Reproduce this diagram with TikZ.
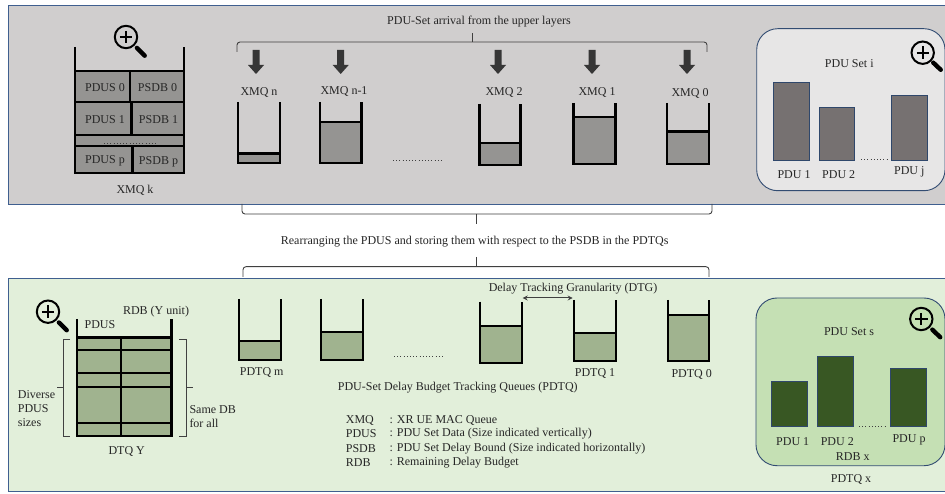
\documentclass[tikz,border=0pt]{standalone}
\usepackage{fontspec}
\setmainfont{Liberation Serif}
\usetikzlibrary{arrows.meta,calc}
\definecolor{panelgray}{HTML}{D0CECE}
\definecolor{panelgreen}{HTML}{E2EFDA}
\definecolor{edgeblue}{HTML}{3F5F8F}
\definecolor{qgray}{HTML}{959492}
\definecolor{qgreen}{HTML}{A0B38F}
\definecolor{setgray}{HTML}{E7E6E6}
\definecolor{setgreen}{HTML}{C5E0B4}
\definecolor{bargray}{HTML}{767171}
\definecolor{bargreen}{HTML}{385723}
\definecolor{txt}{HTML}{262626}
\definecolor{brace}{HTML}{404040}
\tikzset{
  x=1pt,y=-1pt,
  panel/.style={draw=edgeblue,line width=0.9pt},
  setbox/.style={draw=edgeblue!80!black,line width=0.9pt,rounded corners=21pt},
  bar/.style={draw=edgeblue!75!black,line width=0.8pt},
  wall/.style={draw=black,line width=2.2pt,line join=miter},
  lbl/.style={inner sep=0pt,text=txt,font=\fontsize{12pt}{14pt}\selectfont},
  lbll/.style={lbl,anchor=west},
  bracket/.style={draw=brace,line width=0.9pt,rounded corners=3pt},
  dotline/.style={draw=brace,line width=0.9pt,dash pattern=on 1pt off 2.2pt},
  down/.style={fill=brace!85!black,draw=none},
  dtg/.style={draw=brace,line width=1pt,{Stealth[length=5pt,width=5pt]}-{Stealth[length=5pt,width=5pt]}}
}
% queue: left x, right x, top y, bottom y, level y, fill
\newcommand{\myqueue}[6]{%
  \fill[#6] (#1,#5) rectangle (#2,#4);
  \draw[wall] (#1,#3) -- (#1,#4) -- (#2,#4) -- (#2,#3);
  \draw[wall] (#1,#5) -- (#2,#5);
}
% magnifier: cx, cy, hx, hy
\newcommand{\myglass}[4]{%
  \draw[black,line width=2pt] (#1,#2) circle (11.2pt);
  \draw[black,line width=2pt] (#1-6.2,#2) -- (#1+6.2,#2) (#1,#2-6.2) -- (#1,#2+6.2);
  \draw[black,line width=4.4pt,line cap=round] ($(#1,#2)!0.56!(#3,#4)$) -- ($(#1,#2)!0.96!(#3,#4)$);
}
\newcommand{\mydown}[1]{%
  \fill[down] (#1-3.5,50) -- (#1+3.5,50) -- (#1+3.5,65) -- (#1+8,65) -- (#1,74) -- (#1-8,65) -- (#1-3.5,65) -- cycle;
}
\begin{document}
\begin{tikzpicture}
\useasboundingbox (0,0) rectangle (945,494);
\fill[white] (0,0) rectangle (945,494);
% panels
\draw[panel,fill=panelgray] (8.5,5) rectangle (950,204);
\draw[panel,fill=panelgreen] (8.5,278.5) rectangle (950,491.5);

% --- top: XMQ k
\fill[qgray] (75,71) rectangle (184,173);
\draw[wall] (75,47) -- (75,173) -- (184,173) -- (184,47);
\draw[wall] (75,71) -- (184,71) (75,102) -- (184,102) (75,135) -- (184,135) (75,146) -- (184,146);
\draw[wall] (130,71) -- (130,102) (131.5,102) -- (131.5,135) (132.5,146) -- (132.5,173);
\node[lbl] (pdus0) at (105,88) {PDUS 0};
\node[lbl] (psdb0) at (157.5,88) {PSDB 0};
\node[lbl] (pdus1) at (105,120) {PDUS 1};
\node[lbl] (psdb1) at (158.5,120) {PSDB 1};
\node[lbl] (pdusp) at (105,161) {PDUS p};
\node[lbl] (psdbp) at (158.5,161.5) {PSDB p};
\draw[dotline] (104,143) -- (157,143);
\node[lbl] (xmqk) at (135,190.5) {XMQ k};
\myglass{126}{37}{145.5}{56.5}

% --- top: queues
\node[lbl] (arrival) at (479,22) {PDU-Set arrival from the upper layers};
\draw[bracket] (237,52) -- (237,42) -- (707,42) -- (707,52);
\draw[brace,line width=0.9pt] (472,42) -- (472,33);
\mydown{256}\mydown{340.7}\mydown{498}\mydown{592}\mydown{687}
\node[lbl] (xmqn) at (259,93) {XMQ n};
\node[lbl] (xmqn1) at (344,92) {XMQ n-1};
\node[lbl] (xmq2) at (504,93) {XMQ 2};
\node[lbl] (xmq1) at (597,93) {XMQ 1};
\node[lbl] (xmq0) at (690,93) {XMQ 0};
\myqueue{238}{280}{102}{163}{153.5}{qgray}
\myqueue{320}{361.5}{102}{163}{122}{qgray}
\myqueue{479.5}{520.5}{104}{165}{143}{qgray}
\myqueue{573.5}{615.5}{103}{164}{117}{qgray}
\myqueue{667}{709}{103}{164}{131.5}{qgray}
\draw[dotline] (393,160) -- (443,160);

% --- top: PDU set i
\draw[setbox,fill=setgray] (756.7,28.7) rectangle (945,190.7);
\draw[bar,fill=bargray] (773.3,82) rectangle (809,160);
\draw[bar,fill=bargray] (819,107) rectangle (854.7,160);
\draw[bar,fill=bargray] (891.7,95.7) rectangle (927.3,160);
\node[lbl] (seti) at (849.3,64) {PDU Set i};
\node[lbl] (ipdu1) at (794,174.7) {PDU 1};
\node[lbl] (ipdu2) at (838.7,174.7) {PDU 2};
\node[lbl] (ipduj) at (909.3,172.3) {PDU j};
\draw[dotline] (861,159) -- (887,159);
\myglass{922.7}{52.7}{941.5}{70.5}

% --- middle
\draw[bracket] (242,204) -- (242,214) -- (712,214) -- (712,204);
\draw[brace,line width=0.9pt] (476.7,214) -- (476.7,224);
\node[lbl] (rearr) at (474.7,241.7) {Rearranging the PDUS and storing them with respect to the PSDB in the PDTQs};
\draw[brace,line width=0.9pt] (476.7,257) -- (476.7,266.7);
\draw[bracket] (243,277) -- (243,266.7) -- (709,266.7) -- (709,277);

% --- bottom: DTQ Y
\fill[qgreen] (77,337.5) rectangle (171.5,436);
\draw[wall] (77,319) -- (77,436) -- (171.5,436) -- (171.5,319);
\draw[wall] (77,337.5) -- (171.5,337.5) (77,350) -- (171.5,350) (77,372.7) -- (171.5,372.7) (77,387.3) -- (171.5,387.3) (77,422.7) -- (171.5,422.7);
\draw[wall] (121,337.5) -- (121,436);
\node[lbl] (rdby) at (156,311.7) {RDB (Y unit)};
\node[lbl] (pdusy) at (100,324.7) {PDUS};
\node[lbl] (dtqy) at (126.7,451.7) {DTQ Y};
\myglass{48}{311.7}{67.5}{331}
\draw[brace,line width=0.7pt] (70,339) -- (63,339) -- (63,436) -- (70,436) (63,387) -- (57,387);
\draw[brace,line width=0.7pt] (179,339) -- (186,339) -- (186,436.5) -- (179,436.5) (186,387.7) -- (192.5,387.7);
\node[lbll] (div1) at (17.7,394.3) {Diverse};
\node[lbll] (div2) at (17.7,409) {PDUS};
\node[lbll] (div3) at (17.7,423) {sizes};
\node[lbll] (same1) at (189.3,409.3) {Same DB};
\node[lbll] (same2) at (189.3,423.7) {for all};

% --- bottom: queues
\node[lbl] (dtgt) at (573,289) {Delay Tracking Granularity (DTG)};
\coordinate (dtga) at (522.7,298);
\coordinate (dtgb) at (572.7,298);
\draw[dtg] (dtga) -- (dtgb);
\myqueue{239}{280.7}{299}{360}{340.7}{qgreen}
\myqueue{320.7}{362.7}{299}{360}{332}{qgreen}
\myqueue{480}{521.7}{301.7}{362.7}{326}{qgreen}
\myqueue{574.3}{616.3}{300}{361}{333}{qgreen}
\myqueue{667.7}{709.3}{300}{361}{314.7}{qgreen}
\draw[dotline] (394,356) -- (443,356);
\node[lbl] (pdtqm) at (261.7,372.7) {PDTQ m};
\node[lbl] (pdtq1) at (595,373) {PDTQ 1};
\node[lbl] (pdtq0) at (691.7,374) {PDTQ 0};
\node[lbl] (ptitle) at (457.8,388) {PDU-Set Delay Budget Tracking Queues (PDTQ)};
% legend
\node[lbll] (k1) at (345.7,420) {XMQ};
\node[lbll] (k2) at (345.7,434) {PDUS};
\node[lbll] (k3) at (345.7,448.5) {PSDB};
\node[lbll] (k4) at (345.7,463) {RDB};
\node[lbll] (v1) at (389.3,420) {: XR UE MAC Queue};
\node[lbll] (v2) at (389.3,434) {: PDU Set Data (Size indicated vertically)};
\node[lbll] (v3) at (389.3,448.5) {: PDU Set Delay Bound (Size indicated horizontally)};
\node[lbll] (v4) at (389.3,463) {: Remaining Delay Budget};

% --- bottom: PDU set s
\draw[setbox,fill=setgreen] (756,298) rectangle (945,465.7);
\draw[bar,fill=bargreen] (771.7,381.7) rectangle (807.3,426.7);
\draw[bar,fill=bargreen] (817.3,356) rectangle (853.3,426.7);
\draw[bar,fill=bargreen] (890,368.7) rectangle (926,426.7);
\node[lbl] (sets) at (849,331.3) {PDU Set s};
\node[lbl] (spdu1) at (792.7,442) {PDU 1};
\node[lbl] (spdu2) at (837.3,442) {PDU 2};
\node[lbl] (spdup) at (909,440) {PDU p};
\node[lbl] (rdbx) at (852.7,457) {RDB x};
\node[lbl] (pdtqx) at (851,479.3) {PDTQ x};
\draw[dotline] (859,426) -- (885,426);
\myglass{921.3}{319}{941}{338}
\end{tikzpicture}
\end{document}
